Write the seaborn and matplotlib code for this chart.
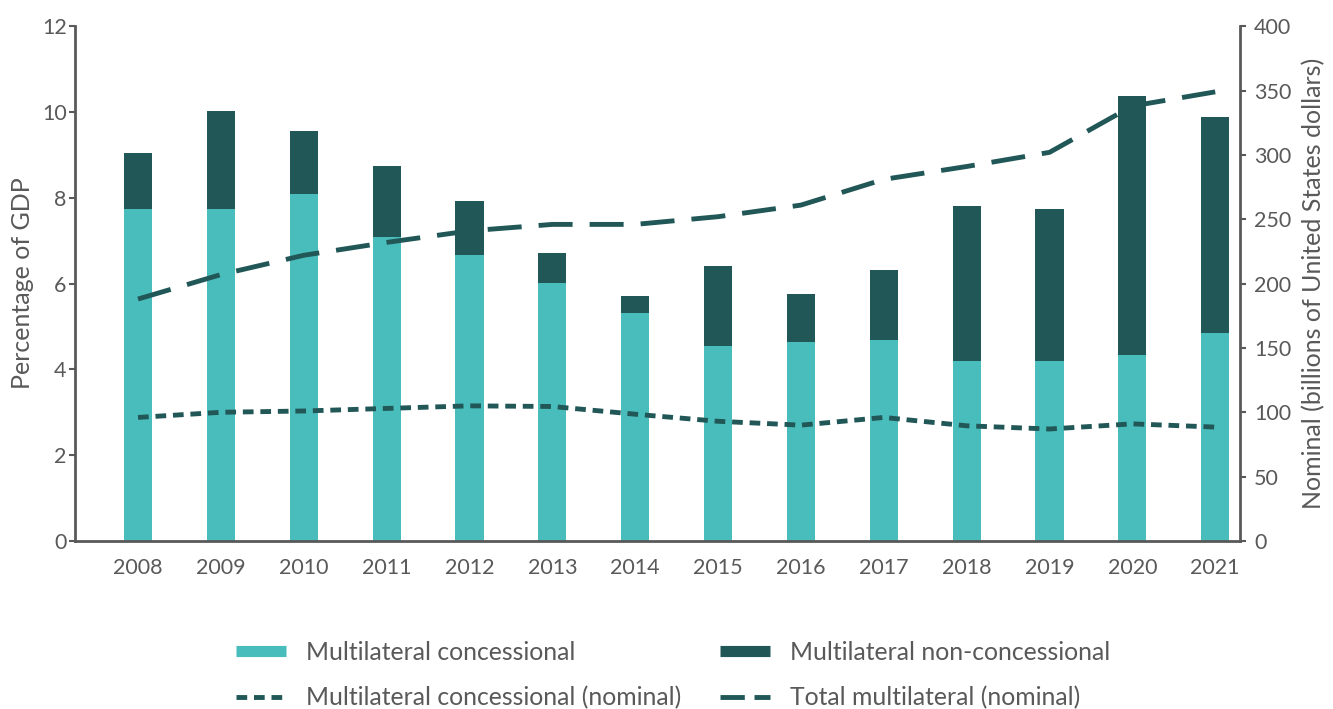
import matplotlib
matplotlib.use("Agg")
import matplotlib.pyplot as plt
from matplotlib.lines import Line2D
import seaborn as sns
import pandas as pd
import numpy as np

years = ["2008", "2009", "2010", "2011", "2012", "2013", "2014",
         "2015", "2016", "2017", "2018", "2019", "2020", "2021"]
# Percentage of GDP
concessional_pct = [7.74, 7.74, 8.09, 7.09, 6.67, 6.02, 5.32,
                    4.55, 4.64, 4.69, 4.20, 4.20, 4.34, 4.85]
non_concessional_pct = [1.30, 2.28, 1.47, 1.65, 1.25, 0.69, 0.39,
                        1.86, 1.12, 1.63, 3.62, 3.54, 6.03, 5.04]
# Nominal, billions of US dollars
concessional_nominal = [96, 100, 101, 103, 105, 104.5, 98.5,
                        93, 90, 96, 89.5, 87, 91, 88.5]
total_nominal = [188, 207, 222, 232, 241, 246, 246,
                 252, 261, 281, 291, 302, 338, 349]

light = "#49BDBC"
dark = "#215757"
grey = "#595959"

sns.set_theme(style="white")
plt.rcParams["font.family"] = ["Lato", "DejaVu Sans"]

df = pd.DataFrame({
    "year": years,
    "conc": concessional_pct,
    "total": np.array(concessional_pct) + np.array(non_concessional_pct),
    "pos": np.arange(len(years)),
    "conc_nom": concessional_nominal,
    "total_nom": total_nominal,
})

fig = plt.figure(figsize=(13.33, 7.09), dpi=100)
ax = fig.add_axes([0.0563, 0.237, 0.874, 0.726])

sns.barplot(data=df, x="year", y="total", color=dark, saturation=1,
            width=0.34, ax=ax, linewidth=0)
sns.barplot(data=df, x="year", y="conc", color=light, saturation=1,
            width=0.34, ax=ax, linewidth=0)

ax.set_ylim(0, 12)
ax.set_yticks(range(0, 13, 2))
ax.set_xlim(-0.76, 13.3)
ax.set_xlabel("")
ax.set_ylabel("Percentage of GDP", fontsize=18, color=grey, labelpad=6)
ax.tick_params(axis="y", labelsize=15.5, labelcolor=grey, colors=grey,
               length=4, width=1.5, direction="out", left=True, pad=2)
ax.tick_params(axis="x", labelsize=15.5, labelcolor=grey, length=0, pad=12)

ax2 = ax.twinx()
sns.lineplot(data=df, x="pos", y="total_nom", ax=ax2, color=dark,
             linewidth=3.5, dashes=False)
sns.lineplot(data=df, x="pos", y="conc_nom", ax=ax2, color=dark,
             linewidth=3.5, dashes=False)
ax2.lines[0].set_dashes([7, 3.5])
ax2.lines[1].set_dashes([2.2, 1.4])
ax2.set_ylim(0, 400)
ax2.set_yticks(range(0, 401, 50))
ax2.set_xlim(-0.76, 13.3)
ax2.set_ylabel("Nominal (billions of United States dollars)", fontsize=18,
               color=grey, labelpad=8)
ax2.tick_params(axis="y", labelsize=15.5, labelcolor=grey, colors=grey,
                length=4, width=1.5, direction="out", right=True, pad=6)

for a in (ax, ax2):
    a.spines["top"].set_visible(False)
    for s in ("left", "right", "bottom"):
        a.spines[s].set_color(grey)
        a.spines[s].set_linewidth(2)
ax.spines["right"].set_visible(False)
ax2.spines["left"].set_visible(False)
ax2.spines["bottom"].set_visible(False)

handles = [
    Line2D([], [], color=light, linewidth=8, solid_capstyle="butt"),
    Line2D([], [], color=dark, linewidth=8, solid_capstyle="butt"),
    Line2D([], [], color=dark, linewidth=3.5, dashes=[2.2, 1.4]),
    Line2D([], [], color=dark, linewidth=3.5, dashes=[5, 2]),
]
labels = ["Multilateral concessional", "Multilateral non-concessional",
          "Multilateral concessional (nominal)", "Total multilateral (nominal)"]
order = [0, 2, 1, 3]
leg = fig.legend([handles[i] for i in order], [labels[i] for i in order],
                 ncol=2, loc="center", bbox_to_anchor=(0.505, 0.048),
                 frameon=False, fontsize=17.8, handlelength=2.0,
                 handletextpad=0.8, columnspacing=1.6, labelspacing=0.9)
for t in leg.get_texts():
    t.set_color(grey)

fig.savefig("out.png", dpi=100)
